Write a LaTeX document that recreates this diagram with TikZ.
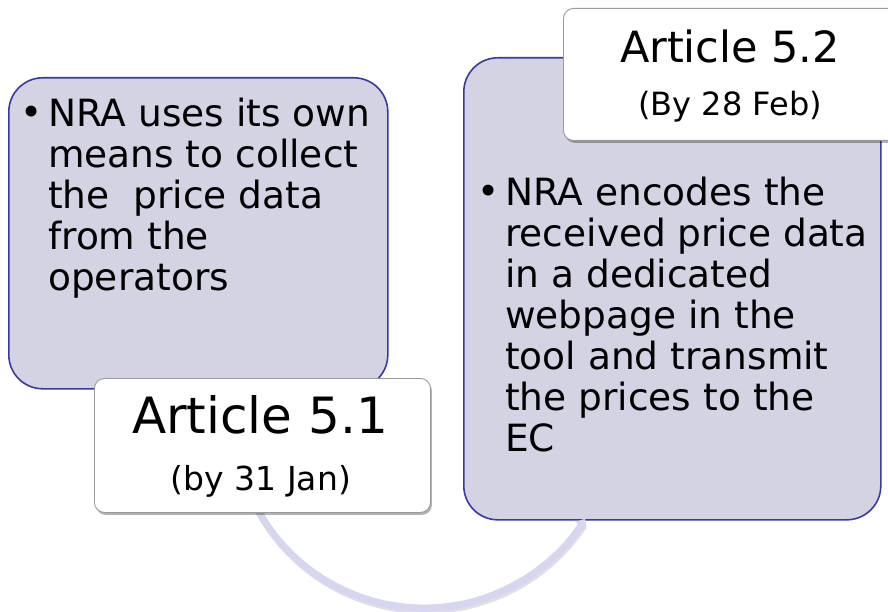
\documentclass[tikz,border=0pt]{standalone}
\usepackage{fontspec}
\setmainfont{DejaVu Sans}
\usetikzlibrary{shadows,arrows.meta}
\definecolor{lav}{HTML}{D3D3E3}
\definecolor{lavborder}{HTML}{3A3AA2}
\definecolor{arccol}{HTML}{D6D6F0}
\definecolor{boxgray}{HTML}{9A9A9A}
\begin{document}
\begin{tikzpicture}[x=1pt,y=1pt,
  bigbox/.style={draw=lavborder, line width=1.6pt, fill=lav, rounded corners=34pt, inner sep=0pt},
  whitebox/.style={draw=boxgray, line width=0.9pt, fill=white, rounded corners=10pt, inner sep=0pt,
    drop shadow={shadow xshift=1.5pt, shadow yshift=-2.5pt, fill=black, opacity=0.3}},
  bodytext/.style={inner sep=0pt, align=left, font=\fontsize{37.5}{41}\selectfont},
  bullettext/.style={inner sep=0pt, font=\fontsize{37.5}{41}\selectfont},
  connector/.style={line width=7pt, draw=arccol, -{Triangle[width=13pt,length=8pt]}},
  connshadow/.style={line width=7pt, draw=black, opacity=0.12}
]
\useasboundingbox (0,0) rectangle (888,611);
\fill[white] (0,0) rectangle (888,611);

% large boxes
\node[bigbox, minimum width=379pt, minimum height=311pt, anchor=north west] (leftbox) at (8,534) {};
\node[bigbox, minimum width=417pt, minimum height=462pt, anchor=north west] (rightbox) at (463,554) {};

% connector arc
\coordinate (arcstart) at (251.8,112.7);
\coordinate (arcshadow) at (253.3,110.2);
\draw[connshadow] (arcshadow) arc[start angle=205, end angle=326, radius=190];
\draw[connector] (arcstart) arc[start angle=205, end angle=328, radius=190];

% texts in large boxes
\node[bullettext, anchor=base] (lbullet) at (32,485) {•};
\node[bodytext, anchor=north west] (lefttext) at (48,513.5)
  {NRA uses its own\\means to collect\\the~~price data\\from the\\operators};
\node[bullettext, anchor=base] (rbullet) at (489,406) {•};
\node[bodytext, anchor=north west] (righttext) at (505,434.5)
  {NRA encodes the\\received price data\\in a dedicated\\webpage in the\\tool and transmit\\the prices to the\\EC};

% label boxes
\node[whitebox, minimum width=336pt, minimum height=134pt, anchor=north west] (lab1) at (94,233) {};
\node[inner sep=0pt, anchor=base, font=\fontsize{50}{54}\selectfont] (lab1t) at (260,178) {Article 5.1};
\node[inner sep=0pt, anchor=base, font=\fontsize{33}{36}\selectfont] (lab1d) at (261,121) {(by 31 Jan)};

\node[whitebox, minimum width=345pt, minimum height=132pt, anchor=north west] (lab2) at (563,603) {};
\node[inner sep=0pt, anchor=base, font=\fontsize{43}{46}\selectfont] (lab2t) at (730,548) {Article 5.2};
\node[inner sep=0pt, anchor=base, font=\fontsize{32}{35}\selectfont] (lab2d) at (730,495) {(By 28 Feb)};
\end{tikzpicture}
\end{document}
